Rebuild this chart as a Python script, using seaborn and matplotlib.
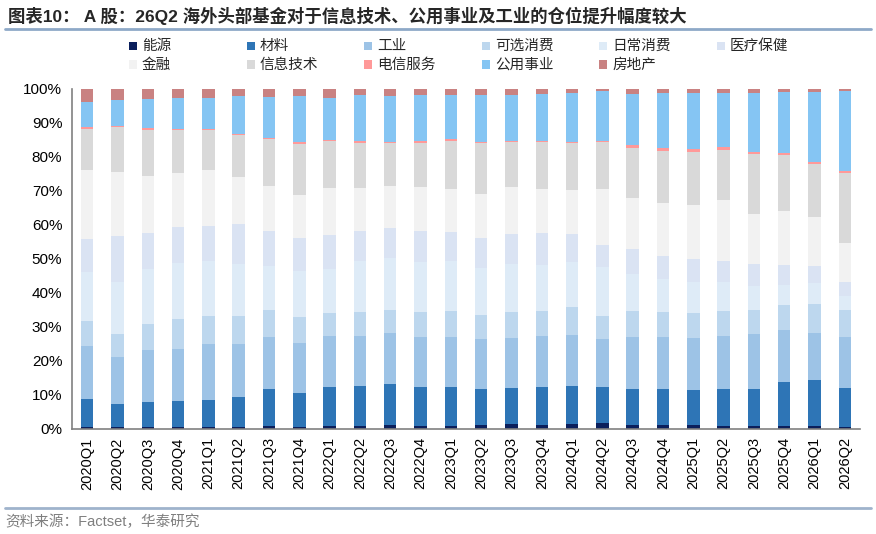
import matplotlib
matplotlib.use("Agg")
import matplotlib.pyplot as plt
from matplotlib.patches import Rectangle
from matplotlib.lines import Line2D
import numpy as np
import pandas as pd
import seaborn as sns

quarters = ["2020Q1", "2020Q2", "2020Q3", "2020Q4", "2021Q1", "2021Q2", "2021Q3", "2021Q4",
            "2022Q1", "2022Q2", "2022Q3", "2022Q4", "2023Q1", "2023Q2", "2023Q3", "2023Q4",
            "2024Q1", "2024Q2", "2024Q3", "2024Q4", "2025Q1", "2025Q2", "2025Q3", "2025Q4",
            "2026Q1", "2026Q2"]

sectors = ["能源", "材料", "工业", "可选消费", "日常消费", "医疗保健",
           "金融", "信息技术", "电信服务", "公用事业", "房地产"]

energy = [0.7, 0.6, 0.6, 0.6, 0.6, 0.6, 0.9, 0.6, 0.9, 0.9, 1.2, 1.0, 1.0, 1.3, 1.4, 1.3,
          1.5, 1.9, 1.3, 1.3, 1.2, 1.0, 0.9, 1.0, 1.0, 0.7]
materials = [8.1, 6.9, 7.4, 7.6, 7.9, 8.8, 10.8, 10.1, 11.5, 11.8, 12.1, 11.5, 11.5, 10.6, 10.7, 11.2,
             11.2, 10.5, 10.6, 10.5, 10.3, 10.8, 10.8, 12.9, 13.3, 11.5]
industrials = [15.7, 13.8, 15.2, 15.4, 16.5, 15.6, 15.4, 14.6, 15.0, 14.8, 15.0, 14.7, 14.7, 14.7, 14.8, 14.9,
               15.0, 14.1, 15.3, 15.3, 15.3, 15.6, 16.2, 15.3, 14.0, 15.0]
discretionary = [7.4, 6.7, 7.8, 8.9, 8.3, 8.3, 7.9, 7.6, 6.7, 6.9, 6.8, 7.3, 7.6, 7.0, 7.6, 7.4,
                 8.2, 6.8, 7.6, 7.4, 7.4, 7.4, 7.2, 7.4, 8.6, 7.9]
staples = [14.3, 15.3, 16.2, 16.4, 16.1, 15.2, 12.9, 13.6, 13.0, 15.0, 15.2, 14.6, 14.6, 13.9, 14.1, 13.5,
           13.2, 14.3, 10.9, 9.6, 9.1, 8.4, 7.1, 5.9, 6.0, 4.1]
health = [9.7, 13.6, 10.4, 10.6, 10.4, 11.8, 10.3, 9.7, 9.9, 8.9, 8.9, 9.2, 8.6, 8.7, 8.9, 9.4,
          8.3, 6.6, 7.3, 6.7, 6.6, 6.3, 6.2, 5.6, 5.1, 3.9]
financials = [20.2, 18.8, 16.9, 15.7, 16.4, 13.7, 13.2, 12.6, 14.0, 12.5, 12.4, 12.8, 12.5, 12.9, 13.6, 12.8,
              12.9, 16.3, 14.8, 15.7, 15.9, 17.8, 14.7, 16.0, 14.5, 11.7]
info_tech = [12.1, 13.1, 13.5, 12.7, 11.8, 12.6, 13.8, 15.1, 13.6, 13.4, 12.4, 13.1, 14.3, 14.9, 13.3, 13.8,
             13.7, 13.8, 14.9, 15.3, 15.7, 14.8, 17.7, 16.4, 15.5, 20.6]
telecom = [0.5, 0.4, 0.5, 0.2, 0.1, 0.3, 0.3, 0.4, 0.4, 0.4, 0.4, 0.5, 0.4, 0.5, 0.4, 0.5,
           0.5, 0.4, 0.9, 0.8, 0.8, 0.7, 0.7, 0.6, 0.4, 0.4]
utilities = [7.5, 7.6, 8.5, 9.4, 9.4, 11.0, 12.1, 13.6, 12.5, 13.5, 13.5, 13.4, 13.1, 13.8, 13.5, 13.7,
             14.2, 14.6, 15.0, 16.1, 16.4, 16.0, 17.4, 17.9, 20.7, 23.6]
real_estate = [3.8, 3.2, 3.0, 2.5, 2.5, 2.1, 2.4, 2.1, 2.5, 1.9, 2.1, 1.9, 1.7, 1.7, 1.7, 1.5,
               1.3, 0.7, 1.4, 1.3, 1.3, 1.2, 1.1, 1.0, 0.9, 0.6]

colors = ["#0B1F5C", "#2E75B6", "#9DC3E6", "#BDD7EE", "#DEEBF7", "#DAE3F3",
          "#F2F2F2", "#D9D9D9", "#FF9999", "#85C5F3", "#C98282"]

series = [energy, materials, industrials, discretionary, staples, health,
          financials, info_tech, telecom, utilities, real_estate]

sns.set_theme(style="white")
plt.rcParams["font.family"] = ["Liberation Sans", "Noto Sans CJK SC", "DejaVu Sans"]

# long table with cumulative tops
rows = []
for s, vals in zip(sectors, series):
    for q, v in zip(quarters, vals):
        rows.append({"quarter": q, "sector": s, "value": v})
df = pd.DataFrame(rows)
df["sector"] = pd.Categorical(df["sector"], categories=sectors, ordered=True)
df = df.sort_values(["quarter", "sector"])
df["cum"] = df.groupby("quarter")["value"].cumsum()
total = df.groupby("quarter")["value"].transform("sum")
df["cum"] = df["cum"] / total * 100

W, H = 876, 534
fig = plt.figure(figsize=(W / 100, H / 100), dpi=100)
ax = fig.add_axes([72 / W, 105 / H, 788 / W, 340 / H])

for s, c in reversed(list(zip(sectors, colors))):
    sub = df[df["sector"] == s]
    sns.barplot(data=sub, x="quarter", y="cum", order=quarters, color=c,
                width=0.41, saturation=1, errorbar=None, ax=ax, linewidth=0)

ax.set_xlim(-0.5, len(quarters) - 0.5)
ax.set_ylim(0, 100)
ax.set_yticks(np.arange(0, 101, 10))
ax.set_yticklabels([f"{v}%" for v in range(0, 101, 10)], fontsize=11)
ax.set_xticks(range(len(quarters)))
ax.set_xticklabels(quarters, rotation=90, fontsize=10.5)
ax.set_xticks(np.arange(-0.5, len(quarters), 1.0), minor=True)
ax.tick_params(axis="x", which="major", length=0, pad=6, colors="black")
ax.tick_params(axis="x", which="minor", length=5, width=1, color="#404040", direction="out")
ax.tick_params(axis="y", length=4, width=1, color="#808080", direction="out", pad=3, labelcolor="black")
ax.set_xlabel("")
ax.set_ylabel("")
for side in ["top", "right"]:
    ax.spines[side].set_visible(False)
ax.spines["left"].set_color("#808080")
ax.spines["bottom"].set_color("#808080")
ax.spines["left"].set_linewidth(1.2)
ax.spines["bottom"].set_linewidth(1.2)
ax.grid(False)

# title and frame lines
fig.text(8 / W, 1 - 16 / H, "图表10： A 股：26Q2 海外头部基金对于信息技术、公用事业及工业的仓位提升幅度较大",
         fontsize=12.5, fontweight="bold", ha="left", va="center")
fig.add_artist(Line2D([5 / W, 871 / W], [1 - 29 / H] * 2, color="#8EA9C8", lw=2,
                      transform=fig.transFigure))
fig.add_artist(Line2D([5 / W, 871 / W], [1 - 508 / H] * 2, color="#9FB3CC", lw=2,
                      transform=fig.transFigure))
fig.text(5 / W, 1 - 522 / H, "资料来源：Factset，华泰研究", fontsize=10.5, color="#7F7F7F",
         ha="left", va="center")

# legend (row-major, 6 columns)
for i, (s, c) in enumerate(zip(sectors, colors)):
    row, col = divmod(i, 6)
    x0 = 129 + col * 117.6
    yc = 46 + row * 18.5
    fig.add_artist(Rectangle((x0 / W, 1 - (yc + 4) / H), 8 / W, 8 / H, facecolor=c,
                             edgecolor="none", transform=fig.transFigure))
    fig.text((x0 + 13) / W, 1 - yc / H, s, fontsize=10.5, ha="left", va="center")

fig.savefig("out.png", dpi=100)
